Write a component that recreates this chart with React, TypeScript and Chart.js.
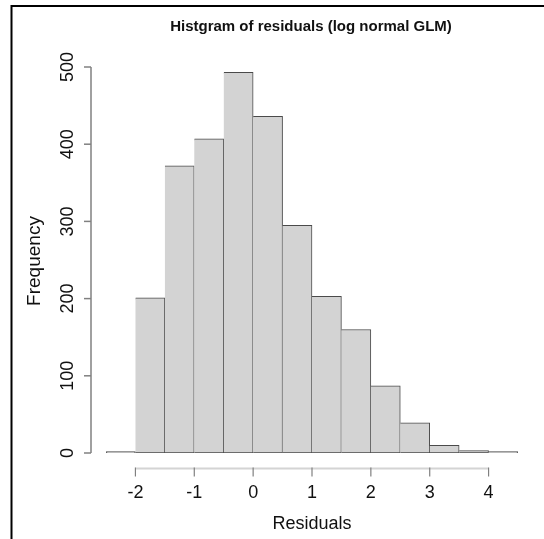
import React, { useEffect, useRef } from "react";
import { Chart, registerables } from "chart.js";

Chart.register(...registerables);

const binStarts = [-2.5, -2, -1.5, -1, -0.5, 0, 0.5, 1, 1.5, 2, 2.5, 3, 3.5, 4];
const binWidth = 0.5;
const frequencies = [2, 201, 372, 407, 493, 436, 295, 203, 160, 87, 39, 10, 3, 2];
const xTicks = [-2, -1, 0, 1, 2, 3, 4];
const yTicks = [0, 100, 200, 300, 400, 500];
const titleText = "Histgram of residuals (log normal GLM)";
const xTitle = "Residuals";
const yTitle = "Frequency";

const FONT = "'Liberation Sans', Arial, Helvetica, sans-serif";

const rAxesPlugin = {
  id: "rAxes",
  afterDraw(chart: any) {
    const ctx = chart.ctx as CanvasRenderingContext2D;
    const xs = chart.scales.x;
    const ys = chart.scales.y;
    ctx.save();
    // frame (top and left)
    ctx.strokeStyle = "#000";
    ctx.lineWidth = 2;
    ctx.beginPath();
    ctx.moveTo(11.5, 539);
    ctx.lineTo(11.5, 6);
    ctx.lineTo(544, 6);
    ctx.stroke();

    // y axis
    const yAxisX = 91;
    ctx.strokeStyle = "#808080";
    ctx.lineWidth = 1.5;
    ctx.beginPath();
    ctx.moveTo(yAxisX, ys.getPixelForValue(yTicks[0]));
    ctx.lineTo(yAxisX, ys.getPixelForValue(yTicks[yTicks.length - 1]));
    ctx.stroke();
    ctx.fillStyle = "#111";
    ctx.font = `18px ${FONT}`;
    ctx.textAlign = "center";
    ctx.textBaseline = "middle";
    for (const t of yTicks) {
      const py = ys.getPixelForValue(t);
      ctx.beginPath();
      ctx.moveTo(yAxisX, py);
      ctx.lineTo(yAxisX - 7, py);
      ctx.stroke();
      ctx.save();
      ctx.translate(68, py);
      ctx.rotate(-Math.PI / 2);
      ctx.fillText(String(t), 0, 0);
      ctx.restore();
    }

    // x axis
    const xAxisY = 468.5;
    ctx.strokeStyle = "#d4d4d4";
    ctx.lineWidth = 2;
    ctx.beginPath();
    ctx.moveTo(xs.getPixelForValue(xTicks[0]), xAxisY);
    ctx.lineTo(xs.getPixelForValue(xTicks[xTicks.length - 1]), xAxisY);
    ctx.stroke();
    ctx.strokeStyle = "#808080";
    ctx.lineWidth = 1.2;
    for (const t of xTicks) {
      const px = xs.getPixelForValue(t);
      ctx.beginPath();
      ctx.moveTo(px, xAxisY - 1);
      ctx.lineTo(px, xAxisY + 8);
      ctx.stroke();
      ctx.fillText(String(t), px, 493);
    }

    // axis titles
    ctx.font = `18px ${FONT}`;
    ctx.fillText(xTitle, 312, 524);
    ctx.save();
    ctx.font = `19px ${FONT}`;
    ctx.translate(35, 261);
    ctx.rotate(-Math.PI / 2);
    ctx.fillText(yTitle, 0, 0);
    ctx.restore();

    // main title
    ctx.font = `bold 15px ${FONT}`;
    ctx.fillText(titleText, 311, 27);
    ctx.restore();
  },
};

export default function App() {
  const ref = useRef<HTMLCanvasElement | null>(null);
  useEffect(() => {
    if (!ref.current) return;
    const chart = new Chart(ref.current, {
      type: "bar",
      data: {
        datasets: [
          {
            data: binStarts.map((s, i) => ({ x: s + binWidth / 2, y: frequencies[i] })),
            backgroundColor: "#d3d3d3",
            borderColor: "#4a4a4a",
            borderWidth: 1,
            borderSkipped: ((c: any) => (c.dataIndex === 0 ? false : "left")) as any,
            barPercentage: 1,
            categoryPercentage: 1,
          },
        ],
      },
      options: {
        responsive: false,
        animation: false,
        devicePixelRatio: 1,
        layout: { padding: { left: 106, right: 26, top: 67, bottom: 86 } },
        plugins: { legend: { display: false }, tooltip: { enabled: false }, title: { display: false } },
        scales: {
          x: { type: "linear", min: -2.5, max: 4.5, offset: false, display: false },
          y: { type: "linear", min: 0, max: 500, display: false },
        },
      },
      plugins: [rAxesPlugin],
    });
    return () => chart.destroy();
  }, []);
  return (
    <div style={{ position: "absolute", left: 0, top: 0, width: 544, height: 539, background: "#fff" }}>
      <canvas ref={ref} width={544} height={539} />
    </div>
  );
}
